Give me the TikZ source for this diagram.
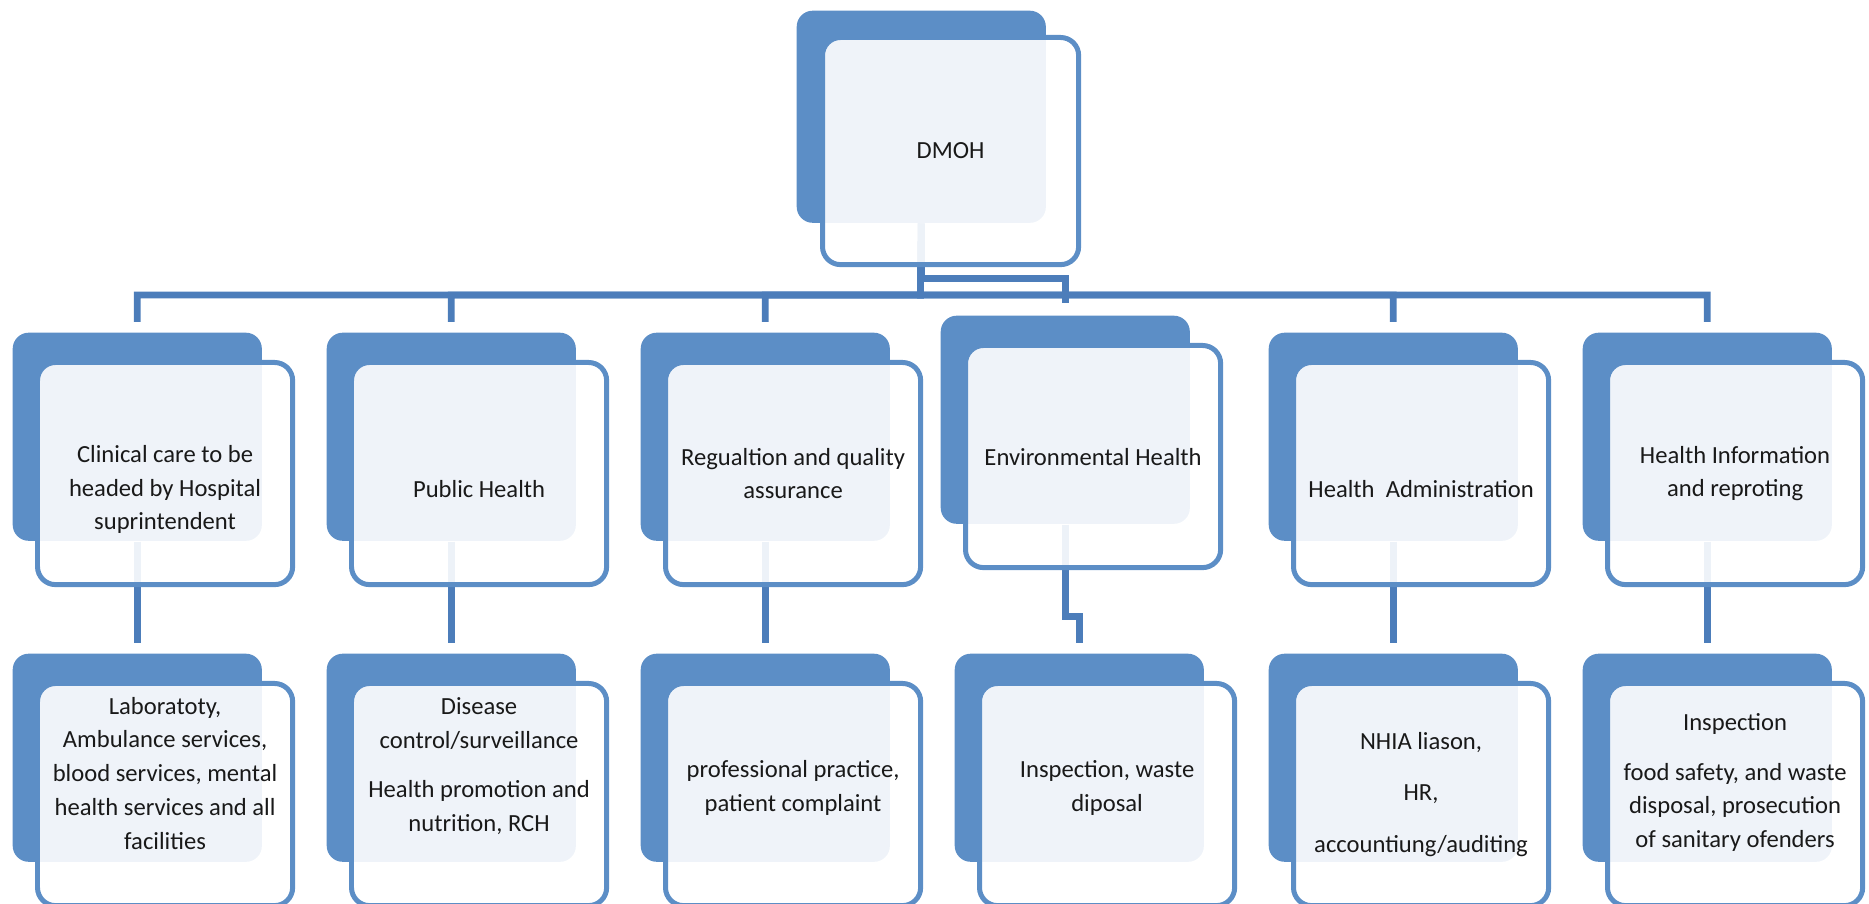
\documentclass[tikz,border=0pt]{standalone}
\usepackage{fontspec}
\setmainfont{Carlito}
\usetikzlibrary{arrows}
\definecolor{BoxB}{RGB}{92, 142, 198}
\definecolor{LineB}{RGB}{76, 125, 186}
\newcommand{\pushdown}[1]{\rule{0pt}{#1}}
\newcommand{\pushup}[1]{\rule[-#1]{0pt}{#1}}
\tikzset{
  backbox/.style={fill=BoxB, rounded corners=0.16cm, anchor=north west,
    minimum width=2.49cm, minimum height=2.08cm, inner sep=0pt},
  frontbox/.style={draw=BoxB, line width=1.42pt, fill=white, fill opacity=0.9,
    text opacity=1, rounded corners=0.18cm, anchor=north west,
    minimum width=2.55cm, minimum height=2.22cm, inner sep=0pt, align=center,
    font=\fontsize{7}{9.6}\selectfont, text=black!90},
  conn/.style={draw=LineB, line width=1.9pt, shorten >=0.1cm}
}

\begin{document}
\begin{tikzpicture}[x=0.01cm, y=-0.01cm]
   \useasboundingbox (0,0) rectangle (1869,904);
   % back boxes
   \node[backbox, minimum height=2.12cm] (dmoh-b) at (796,10) {};
   \node[backbox] (clin-b) at (12,332) {};
   \node[backbox] (pub-b) at (326,332) {};
   \node[backbox] (reg-b) at (640,332) {};
   \node[backbox] (env-b) at (940,315) {};
   \node[backbox] (adm-b) at (1268,332) {};
   \node[backbox] (info-b) at (1582,332) {};
   \node[backbox] (clinsub-b) at (12,653) {};
   \node[backbox] (pubsub-b) at (326,653) {};
   \node[backbox] (regsub-b) at (640,653) {};
   \node[backbox] (envsub-b) at (954,653) {};
   \node[backbox] (admsub-b) at (1268,653) {};
   \node[backbox] (infosub-b) at (1582,653) {};
   % connectors
   \coordinate (bar) at (920.5,295);
   \draw[conn] (dmoh-b.south) -- (bar) -| (clin-b.north);
   \draw[conn] (dmoh-b.south) -- (bar) -| (pub-b.north);
   \draw[conn] (dmoh-b.south) -- (bar) -| (reg-b.north);
   \draw[conn] (dmoh-b.south) -- (bar) -| (adm-b.north);
   \draw[conn] (dmoh-b.south) -- (bar) -| (info-b.north);
   \draw[conn, shorten >=0.12cm] (dmoh-b.south) -- ++(0,55) -| (env-b.north);
   \draw[conn] (clin-b.south) -- (clinsub-b.north);
   \draw[conn] (pub-b.south) -- (pubsub-b.north);
   \draw[conn] (reg-b.south) -- (regsub-b.north);
   \draw[conn] (env-b.south) -- ++(0,92) -| (envsub-b.north);
   \draw[conn] (adm-b.south) -- (admsub-b.north);
   \draw[conn] (info-b.south) -- (infosub-b.north);
   % front boxes
   \node[frontbox, minimum width=2.56cm, minimum height=2.27cm] (dmoh) at (820,35) {DMOH};
   \node[frontbox] (clin) at (35,360) {\pushdown{0.49cm}Clinical care to be\\headed by Hospital\\suprintendent};
   \node[frontbox] (pub) at (349,360) {\pushdown{0.49cm}Public Health};
   \node[frontbox] (reg) at (663,360) {Regualtion and quality\\assurance};
   \node[frontbox] (env) at (963,343) {Environmental Health};
   \node[frontbox] (adm) at (1291,360) {\pushdown{0.49cm}Health~ Administration};
   \node[frontbox] (info) at (1605,360) {Health Information\\and reproting};
   \node[frontbox] (clinsub) at (35,681) {Laboratoty,\\Ambulance services,\\blood services, mental\\health services and all\\facilities\pushup{0.43cm}};
   \node[frontbox] (pubsub) at (349,681) {Disease\\control/surveillance\\[4.5pt]Health promotion and\\nutrition, RCH\pushup{0.6cm}};
   \node[frontbox] (regsub) at (663,681) {professional practice,\\patient complaint\pushup{0.17cm}};
   \node[frontbox] (envsub) at (977,681) {Inspection, waste\\diposal\pushup{0.17cm}};
   \node[frontbox] (admsub) at (1291,681) {NHIA liason,\\[5pt]HR,\\[5pt]accountiung/auditing};
   \node[frontbox] (infosub) at (1605,681) {Inspection\\[4.5pt]food safety, and waste\\disposal, prosecution\\of sanitary ofenders\pushup{0.28cm}};
\end{tikzpicture}
\end{document}
